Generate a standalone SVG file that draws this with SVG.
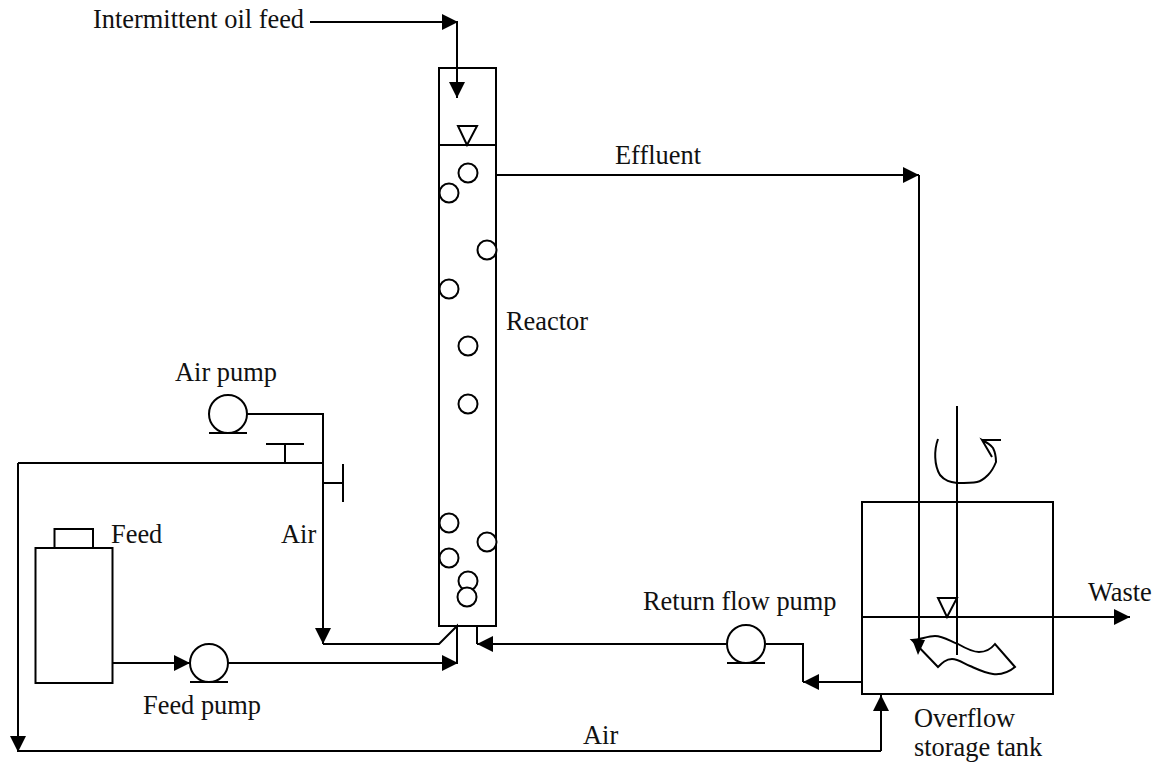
<svg xmlns="http://www.w3.org/2000/svg" width="1159" height="763" viewBox="0 0 1159 763">
<defs>
<marker id="ah" markerUnits="userSpaceOnUse" markerWidth="16" markerHeight="16" refX="16" refY="8" orient="auto"><path d="M0,0 L16,8 L0,16 Z" fill="#000"/></marker>
</defs>
<style>
text{font-family:"Liberation Serif","Times New Roman",serif;font-size:26.4px;fill:#111}
.l{fill:none;stroke:#000;stroke-width:2}
.a{marker-end:url(#ah)}
.n{fill:#fff;stroke:#000;stroke-width:2}
</style>
<rect width="1159" height="763" fill="#fff"/>
<g id="connectors">
<path class="l a" d="M310,22 H458"/>
<path class="l a" d="M457,22 V98"/>
<path class="l a" d="M496,175 H919"/>
<path class="l" d="M919,175 V645"/>
<path d="M912,639 L925,640 L918,655 Z" fill="#000"/>
<path class="l a" d="M861,617 H1130"/>
<path class="l" d="M247,414 H323 V463"/>
<path class="l" d="M18,463 H323"/>
<path class="l" d="M285,463 V444 M266,444 H304"/>
<path class="l" d="M323,483 H343 M343,464 V502"/>
<path class="l a" d="M323,463 V644"/>
<path class="l" d="M323,644 H439 L457,626 V664"/>
<path class="l a" d="M113,663 H190"/>
<path class="l a" d="M228,663 H458"/>
<path class="l a" d="M18,463 V752"/>
<path class="l" d="M18,751 H881"/>
<path class="l a" d="M881,751 V695"/>
<path class="l a" d="M726,644 H477"/>
<path class="l" d="M477,644 V626"/>
<path class="l" d="M766,644 H803 V682"/>
<path class="l a" d="M861,682 H803"/>
</g>
<g id="reactor">
<rect class="l" x="439" y="68" width="57" height="558"/>
<path class="l" d="M439,145 H496"/>
<path class="l" d="M458,126 H477 L467,145 Z"/>
<g class="n">
<circle cx="468" cy="173" r="9.500"/><circle cx="449" cy="193" r="9.500"/><circle cx="487" cy="250" r="9.500"/><circle cx="449" cy="289" r="9.500"/><circle cx="468" cy="346" r="9.500"/><circle cx="468" cy="404" r="9.500"/><circle cx="449" cy="523" r="9.500"/><circle cx="487" cy="542" r="9.500"/><circle cx="449" cy="558" r="9.500"/><circle cx="468" cy="581" r="9.500"/><circle cx="467" cy="597" r="9.500"/>
</g>
</g>
<g id="air-pump"><circle class="n" cx="228" cy="414" r="19"/><path class="l" d="M209,433 H247"/></g>
<g id="feed-tank"><rect class="l" x="35.500" y="548" width="77" height="135"/><path class="l" d="M54.500,548 V529 H93 V548"/></g>
<g id="feed-pump"><circle class="n" cx="209" cy="663" r="19"/><path class="l" d="M190,682 H228"/></g>
<g id="return-pump"><circle class="n" cx="746" cy="644" r="19"/><path class="l" d="M727,663 H765"/></g>
<g id="storage-tank">
<rect class="l" x="862" y="502" width="191" height="192"/>
<path class="l" d="M957,406 V655"/>
<path class="l" d="M938,598 H957 L947,617 Z"/>
<path class="l" d="M912,640 C920,640 927,636 935,636 C943,636 950,641 958,644 C965,648 972,652 979,652 C986,652 991,649 995,644 L1015,667 C1009,672 1002,675 993,674 C985,673 977,669 970,666 C963,663 958,659 952,659 C946,659 942,663 938,667 Z"/>
<path class="l" d="M938,439 C934,450 934,465 940,475 C945,481 950,482 957,483 C965,483 972,483 977,482 C982,481 985,478 988,475 C992,471 994,467 996,462 C996,456 995,452 993,448 C990,444 986,442 982,440 L992,457 M982,440 H1001"/>
</g>
<g id="labels">
<text x="93" y="28">Intermittent oil feed</text>
<text x="615" y="164">Effluent</text>
<text x="506" y="330">Reactor</text>
<text x="175" y="381">Air pump</text>
<text x="111" y="543">Feed</text>
<text x="281" y="543">Air</text>
<text x="143" y="714">Feed pump</text>
<text x="643" y="610">Return flow pump</text>
<text x="1088" y="601">Waste</text>
<text x="583" y="744">Air</text>
<text x="914" y="727">Overflow</text>
<text x="914" y="756">storage tank</text>
</g>
</svg>
